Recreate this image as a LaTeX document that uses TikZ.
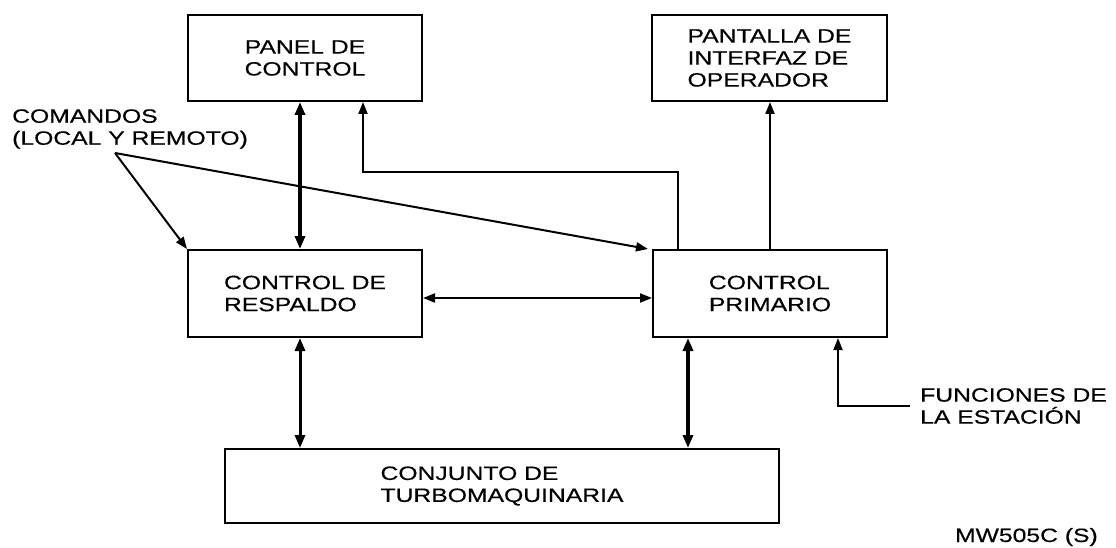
\documentclass[tikz,border=0pt]{standalone}
\usepackage{fontspec}
\setmainfont{Liberation Sans}[FakeStretch=1.28,FakeBold=0.4]
\usetikzlibrary{arrows.meta}
\begin{document}
\begin{tikzpicture}[x=1pt,y=-1pt,
  font=\fontsize{19.3pt}{22pt}\selectfont,
  blk/.style={draw, line width=2pt, inner sep=0pt, align=left},
  lbl/.style={inner sep=0pt, align=left},
  tipA/.style={-{Triangle[length=12pt,width=9pt]}},
  tipAB/.style={{Triangle[length=12pt,width=9pt]}-{Triangle[length=12pt,width=9pt]}},
  tipB/.style={{Triangle[length=13pt,width=10pt]}-{Triangle[length=13pt,width=10pt]}},
  thinln/.style={line width=2pt},
  thickln/.style={line width=3.6pt},
  midln/.style={line width=3pt}]
\useasboundingbox (0,0) rectangle (1116,548);
% boxes
\node[blk, minimum width=234pt, minimum height=86pt, align=center] (panel) at (305,58) {PANEL DE\\CONTROL};
\node[blk, minimum width=235pt, minimum height=86pt] (pantalla) at (769.5,58) {PANTALLA DE\\INTERFAZ DE\\OPERADOR};
\node[blk, minimum width=234pt, minimum height=87pt] (respaldo) at (305,293.5) {CONTROL DE\\RESPALDO};
\node[blk, minimum width=234pt, minimum height=87pt] (primario) at (770,293.5) {CONTROL\\PRIMARIO};
\node[blk, minimum width=554pt, minimum height=74pt] (conjunto) at (502,486) {CONJUNTO DE\\TURBOMAQUINARIA};
% labels
\node[lbl, anchor=west] (comandos) at (12,129) {COMANDOS\\(LOCAL Y REMOTO)};
\node[lbl, anchor=west] (funciones) at (920,406) {FUNCIONES DE\\LA ESTACIÓN};
\node[lbl, anchor=base east] (code) at (1098,542) {MW505C (S)};
\coordinate (apex) at (115,153);
\coordinate (st) at (910,406);
% connectors
\draw[thickln, tipB] ([xshift=-5pt]panel.south) -- ([xshift=-5pt]respaldo.north);
\draw[thinln, tipA] ([xshift=-92pt]primario.north) |- ++(0,-77) -| ([xshift=58pt]panel.south);
\draw[thinln, tipA] (primario.north) -- (primario.north |- pantalla.south);
\draw[thinln, tipA] (apex) -- (respaldo.north west);
\draw[thinln, tipA] (apex) -- ([xshift=-4pt]primario.north west);
\draw[thinln, tipAB] ([yshift=-4.5pt]respaldo.east) -- ([yshift=-4.5pt]primario.west);
\draw[midln, tipB] ([xshift=-5pt]respaldo.south) -- ([xshift=-5pt]respaldo.south |- conjunto.north);
\draw[thickln, tipB] ([xshift=-82pt]primario.south) -- ([xshift=-82pt]primario.south |- conjunto.north);
\draw[thinln, tipA] (st) -| ([xshift=68pt]primario.south);
\end{tikzpicture}
\end{document}
